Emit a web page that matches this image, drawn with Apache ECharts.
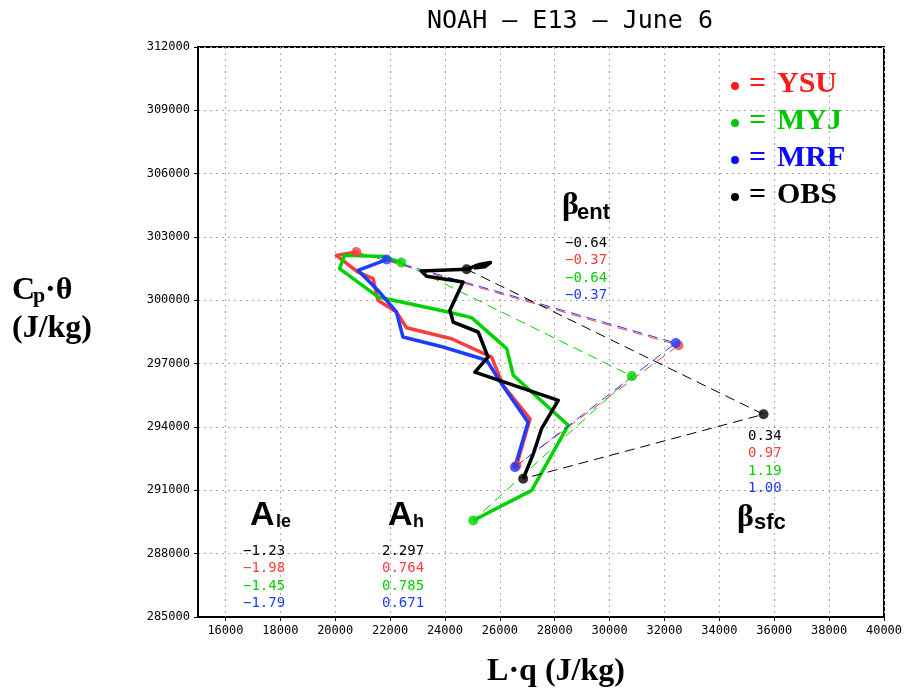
<!DOCTYPE html>
<html><head><meta charset="utf-8">
<script src="https://cdn.jsdelivr.net/npm/echarts@6/dist/echarts.min.js"></script>
<style>html,body{margin:0;padding:0;background:#fff}#c{width:907px;height:691px}</style>
</head><body><div id="c"></div>
<script>
// ---- data ----
const xTickValues = [16000,18000,20000,22000,24000,26000,28000,30000,32000,34000,36000,38000,40000];
const yTickValues = [285000,288000,291000,294000,297000,300000,303000,306000,309000,312000];

const modelNames = ['YSU','MYJ','MRF','OBS'];

const ysuProfile = [[20770,302290],[20040,302130],[20830,301340],[21380,301030],[21560,300000],[22230,299450],[22600,298700],[24240,298180],[25700,297310],[26120,295970],[27100,294390],[26610,292180]];
const ysuVectors = [[20770,302290],[32510,297870],[26610,292180]];

const myjProfile = [[22410,301790],[21740,302080],[20340,302130],[20160,301500],[21560,300160],[24110,299450],[24970,299180],[26250,297710],[26490,296450],[28490,294080],[27160,291000],[25030,289570]];
const myjVectors = [[22410,301790],[30810,296410],[25030,289570]];

const mrfProfile = [[21870,301930],[20830,301420],[21560,300470],[22230,299450],[22470,298260],[23930,297790],[25520,297160],[26060,296050],[27030,294230],[26550,292100]];
const mrfVectors = [[21870,301930],[32410,297980],[26550,292100]];

const obsProfile = [[25050,301530],[25450,301590],[25660,301790],[25250,301700],[24790,301470],[23140,301390],[23330,301140],[24660,300870],[24180,299530],[24300,298970],[25210,298500],[25570,297310],[25090,296600],[28130,295260],[27520,293920],[27220,292730],[26850,291550]];
const obsVectors = [[24790,301470],[35610,294600],[26850,291550]];

// table values, order: OBS, YSU, MYJ, MRF
const betaEnt = ['\u22120.64','\u22120.37','\u22120.64','\u22120.37'];
const betaSfc = ['0.34','0.97','1.19','1.00'];
const aLe = ['\u22121.23','\u22121.98','\u22121.45','\u22121.79'];
const aH = ['2.297','0.764','0.785','0.671'];

// ---- styles ----
const lineColors = {YSU:'#fa3c3c', MYJ:'#00d200', MRF:'#1e3cff', OBS:'#000000'};
const legendColors = {YSU:'#ff1a1a', MYJ:'#00c800', MRF:'#0a0aff', OBS:'#000000'};
const tableColors = ['#000000','#fa3c3c','#00d200','#1e3cff'];

const profiles = {YSU:ysuProfile, MYJ:myjProfile, MRF:mrfProfile, OBS:obsProfile};
const vectors = {YSU:ysuVectors, MYJ:myjVectors, MRF:mrfVectors, OBS:obsVectors};

const series = [];
modelNames.forEach(function(m){
  series.push({type:'line', name:m, data:profiles[m], showSymbol:false, symbol:'none',
    lineStyle:{color:lineColors[m], width:3.5, join:'round'}, animation:false, z:2});
  series.push({type:'line', name:m+'v', data:vectors[m], showSymbol:false, symbol:'none',
    lineStyle:{color:lineColors[m], width:1, type:[10,6]}, animation:false, z:2});
  series.push({type:'scatter', name:m+'d', data:vectors[m], symbol:'circle', symbolSize:10,
    itemStyle:{color:lineColors[m]}, animation:false, z:3});
});

const mono = 'DejaVu Sans Mono';
function txt(x,y,text,font,fill,align){
  return {type:'text', x:x, y:y, z:100, silent:true,
    style:{text:text, font:font, fill:fill, textAlign:align||'left', textVerticalAlign:'middle'}};
}
const graphics = [];
graphics.push(txt(570,21,'NOAH \u2013 E13 \u2013 June 6','25px '+mono,'#000','center'));
// y title
graphics.push(txt(12,291,'C','bold 32px "Liberation Serif"','#000'));
graphics.push(txt(33,296,'p','bold 22px "Liberation Serif"','#000'));
graphics.push(txt(45,291,'\u00b7\u03b8','bold 32px "Liberation Serif"','#000'));
graphics.push(txt(12,329,'(J/kg)','bold 32px "Liberation Serif"','#000'));
// x title
graphics.push(txt(556,672,'L\u00b7q (J/kg)','bold 32px "Liberation Serif"','#000','center'));
// legend
const legendY = [84,121,158,195];
modelNames.forEach(function(m,i){
  graphics.push({type:'circle', z:100, silent:true, shape:{cx:735, cy:legendY[i]+2, r:4}, style:{fill:legendColors[m]}});
  graphics.push(txt(749,legendY[i],'=','bold 30px "Liberation Serif"',legendColors[m]));
  graphics.push(txt(777,legendY[i],m,'bold 30px "Liberation Serif"',legendColors[m]));
});
// beta ent
graphics.push(txt(562,205.5,'\u03b2','bold 32px "Liberation Serif"','#000'));
graphics.push(txt(577,213,'ent','bold 22px "Liberation Sans"','#000'));
// beta sfc
graphics.push(txt(737,517.5,'\u03b2','bold 32px "Liberation Serif"','#000'));
graphics.push(txt(754,523,'sfc','bold 22px "Liberation Sans"','#000'));
// A le, A h
graphics.push(txt(250,516,'A','bold 34px "Liberation Sans"','#000'));
graphics.push(txt(276,522,'le','bold 18px "Liberation Sans"','#000'));
graphics.push(txt(388,516,'A','bold 34px "Liberation Sans"','#000'));
graphics.push(txt(413,522,'h','bold 18px "Liberation Sans"','#000'));
// tables
const entY = [243,260.5,278,295.5];
const sfcY = [436,453.5,471,488.5];
const aY = [551,568.5,586,603.5];
for (let i=0;i<4;i++){
  graphics.push(txt(565,entY[i],betaEnt[i],'14px '+mono,tableColors[i]));
  graphics.push(txt(748,sfcY[i],betaSfc[i],'14px '+mono,tableColors[i]));
  graphics.push(txt(243,aY[i],aLe[i],'14px '+mono,tableColors[i]));
  graphics.push(txt(382,aY[i],aH[i],'14px '+mono,tableColors[i]));
}

const plain = function(v){ return String(v); };
const gridLine = {show:true, lineStyle:{color:'#a8a8a8', width:1, type:[2,4]}};
const option = {
  backgroundColor:'#fff',
  animation:false,
  grid:{left:198, right:23, top:47, bottom:74, show:true, borderColor:'#000', borderWidth:2, backgroundColor:'transparent'},
  xAxis:{type:'value', min:15000, max:40000,
    axisLine:{show:true, onZero:false, lineStyle:{color:'#000', width:2}},
    axisTick:{show:true, length:4, customValues:xTickValues, lineStyle:{color:'#000', width:1}},
    axisLabel:{customValues:xTickValues, formatter:plain, margin:8, color:'#000', fontFamily:mono, fontSize:12, showMinLabel:true, showMaxLabel:true},
    splitLine:gridLine},
  yAxis:{type:'value', min:285000, max:312000, interval:3000,
    axisLine:{show:true, onZero:false, lineStyle:{color:'#000', width:2}},
    axisTick:{show:true, length:4, lineStyle:{color:'#000', width:1}},
    axisLabel:{formatter:plain, margin:8, color:'#000', fontFamily:mono, fontSize:12},
    splitLine:gridLine},
  series:series,
  graphic:{elements:graphics}
};
const chart = echarts.init(document.getElementById('c'), null, {renderer:'canvas'});
chart.setOption(option);
</script>
</body></html>
